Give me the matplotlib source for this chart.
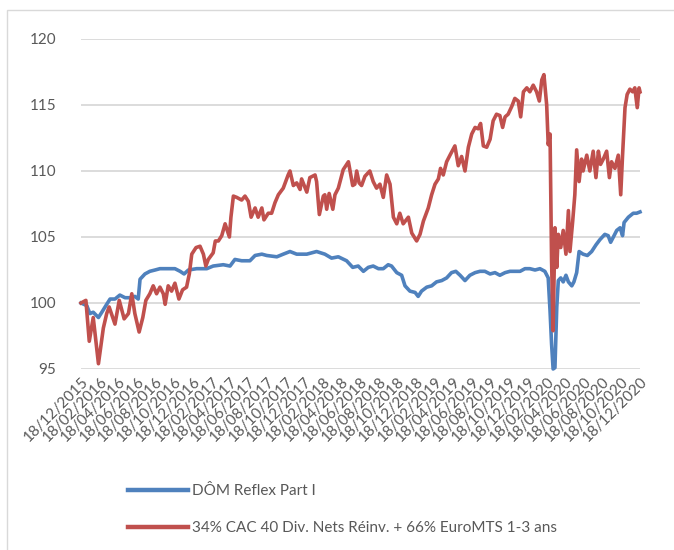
import matplotlib
matplotlib.use("Agg")
import matplotlib.pyplot as plt
from matplotlib.patches import Rectangle
import pandas as pd

# series (base 100 on 18/12/2015)
DOM_DATES = [
    "2015-12-18", "2016-01-06", "2016-01-16", "2016-01-27", "2016-02-13", "2016-02-24",
    "2016-03-11", "2016-03-22", "2016-04-07", "2016-04-23", "2016-05-10", "2016-05-26",
    "2016-06-11", "2016-06-22", "2016-06-28", "2016-07-14", "2016-07-30", "2016-08-16",
    "2016-09-01", "2016-09-23", "2016-10-20", "2016-11-06", "2016-11-19", "2016-12-03",
    "2016-12-30", "2017-02-01", "2017-02-22", "2017-03-27", "2017-04-18", "2017-05-04",
    "2017-05-26", "2017-06-22", "2017-07-09", "2017-07-31", "2017-08-16", "2017-09-18",
    "2017-10-09", "2017-10-31", "2017-11-22", "2017-12-25", "2018-01-26", "2018-02-22",
    "2018-03-16", "2018-04-07", "2018-05-04", "2018-05-24", "2018-06-11", "2018-06-28",
    "2018-07-14", "2018-07-30", "2018-08-16", "2018-09-01", "2018-09-17", "2018-09-28",
    "2018-10-15", "2018-10-31", "2018-11-11", "2018-11-27", "2018-12-14", "2018-12-24",
    "2019-01-04", "2019-01-21", "2019-02-06", "2019-02-22", "2019-03-11", "2019-03-27",
    "2019-04-12", "2019-04-26", "2019-05-10", "2019-05-26", "2019-06-11", "2019-06-28",
    "2019-07-14", "2019-07-30", "2019-08-16", "2019-09-01", "2019-09-17", "2019-10-04",
    "2019-10-20", "2019-11-05", "2019-11-22", "2019-12-08", "2019-12-24", "2020-01-10",
    "2020-01-26", "2020-02-11", "2020-02-22", "2020-02-28", "2020-03-04", "2020-03-09",
    "2020-03-15", "2020-03-21", "2020-03-26", "2020-04-03", "2020-04-11", "2020-04-20",
    "2020-04-28", "2020-05-09", "2020-05-16", "2020-05-25", "2020-06-02", "2020-06-15",
    "2020-06-29", "2020-07-13", "2020-07-27", "2020-08-09", "2020-08-25", "2020-09-05",
    "2020-09-13", "2020-09-22", "2020-10-03", "2020-10-14", "2020-10-22", "2020-10-27",
    "2020-11-10", "2020-11-26", "2020-12-07", "2020-12-18",
]
DOM_VALUES = [
    100.0, 99.8, 99.2, 99.3, 98.9, 99.3,
    99.9, 100.3, 100.3, 100.6, 100.4, 100.4,
    100.5, 100.3, 101.8, 102.2, 102.4, 102.5,
    102.6, 102.6, 102.6, 102.4, 102.2, 102.5,
    102.6, 102.6, 102.8, 102.9, 102.8, 103.3,
    103.2, 103.2, 103.6, 103.7, 103.6, 103.5,
    103.7, 103.9, 103.7, 103.7, 103.9, 103.7,
    103.4, 103.5, 103.2, 102.7, 102.8, 102.4,
    102.7, 102.8, 102.6, 102.6, 102.9, 102.8,
    102.3, 102.1, 101.3, 100.9, 100.8, 100.5,
    100.9, 101.2, 101.3, 101.6, 101.7, 101.9,
    102.3, 102.4, 102.1, 101.7, 102.1, 102.3,
    102.4, 102.4, 102.2, 102.3, 102.1, 102.3,
    102.4, 102.4, 102.4, 102.6, 102.6, 102.5,
    102.6, 102.4, 101.9, 99.4, 96.9, 95.0,
    95.1, 99.7, 101.7, 101.9, 101.6, 102.1,
    101.6, 101.3, 101.6, 102.3, 103.9, 103.7,
    103.6, 103.9, 104.4, 104.8, 105.2, 105.1,
    104.6, 105.0, 105.5, 105.7, 105.1, 106.1,
    106.5, 106.8, 106.8, 106.9,
]

BENCH_DATES = [
    "2015-12-18", "2016-01-03", "2016-01-14", "2016-01-27", "2016-02-13", "2016-02-29",
    "2016-03-11", "2016-03-19", "2016-04-07", "2016-04-21", "2016-05-07", "2016-05-21",
    "2016-06-01", "2016-06-11", "2016-06-25", "2016-07-07", "2016-07-17", "2016-07-30",
    "2016-08-10", "2016-08-21", "2016-09-01", "2016-09-12", "2016-09-18", "2016-09-28",
    "2016-10-09", "2016-10-20", "2016-11-02", "2016-11-14", "2016-11-27", "2016-12-06",
    "2016-12-14", "2016-12-28", "2017-01-10", "2017-01-21", "2017-01-29", "2017-02-06",
    "2017-02-22", "2017-03-01", "2017-03-11", "2017-03-22", "2017-04-02", "2017-04-16",
    "2017-04-21", "2017-04-29", "2017-05-10", "2017-05-26", "2017-06-06", "2017-06-17",
    "2017-06-26", "2017-07-09", "2017-07-19", "2017-07-31", "2017-08-07", "2017-08-21",
    "2017-09-01", "2017-09-12", "2017-09-23", "2017-10-09", "2017-10-25", "2017-10-31",
    "2017-11-11", "2017-11-22", "2017-12-03", "2017-12-08", "2017-12-25", "2018-01-04",
    "2018-01-21", "2018-01-26", "2018-02-04", "2018-02-17", "2018-02-22", "2018-02-28",
    "2018-03-08", "2018-03-20", "2018-03-27", "2018-04-07", "2018-04-23", "2018-05-10",
    "2018-05-24", "2018-05-31", "2018-06-06", "2018-06-14", "2018-06-22", "2018-07-03",
    "2018-07-19", "2018-07-30", "2018-08-10", "2018-08-21", "2018-09-01", "2018-09-12",
    "2018-09-23", "2018-10-04", "2018-10-15", "2018-10-25", "2018-11-05", "2018-11-22",
    "2018-12-03", "2018-12-19", "2018-12-30", "2019-01-10", "2019-01-26", "2019-02-06",
    "2019-02-17", "2019-02-28", "2019-03-07", "2019-03-16", "2019-03-27", "2019-04-07",
    "2019-04-23", "2019-05-04", "2019-05-15", "2019-05-26", "2019-06-06", "2019-06-17",
    "2019-06-28", "2019-07-08", "2019-07-16", "2019-07-25", "2019-08-05", "2019-08-16",
    "2019-08-26", "2019-09-06", "2019-09-17", "2019-09-26", "2019-10-04", "2019-10-14",
    "2019-10-26", "2019-11-05", "2019-11-16", "2019-11-24", "2019-12-03", "2019-12-14",
    "2019-12-24", "2020-01-04", "2020-01-15", "2020-01-24", "2020-02-01", "2020-02-08",
    "2020-02-17", "2020-02-22", "2020-02-28", "2020-03-04", "2020-03-09", "2020-03-15",
    "2020-03-21", "2020-03-26", "2020-04-03", "2020-04-11", "2020-04-20", "2020-04-28",
    "2020-05-03", "2020-05-12", "2020-05-19", "2020-05-25", "2020-06-02", "2020-06-10",
    "2020-06-15", "2020-06-27", "2020-07-07", "2020-07-18", "2020-07-27", "2020-08-04",
    "2020-08-11", "2020-08-20", "2020-08-31", "2020-09-09", "2020-09-16", "2020-09-27",
    "2020-10-08", "2020-10-16", "2020-10-22", "2020-10-30", "2020-11-06", "2020-11-15",
    "2020-11-24", "2020-12-01", "2020-12-09", "2020-12-15", "2020-12-18",
]
BENCH_VALUES = [
    100.0, 100.2, 97.1, 98.9, 95.4, 98.1,
    99.2, 99.7, 98.4, 100.2, 98.8, 99.2,
    100.7, 99.2, 97.8, 98.9, 100.2, 100.7,
    101.3, 100.7, 101.2, 100.7, 99.9, 101.3,
    100.9, 101.5, 100.3, 101.0, 101.2, 102.2,
    103.7, 104.2, 104.3, 103.7, 102.8, 103.3,
    103.8, 104.7, 104.7, 105.1, 106.0, 105.0,
    106.5, 108.1, 108.0, 107.8, 108.1, 107.7,
    106.5, 107.2, 106.5, 107.2, 106.3, 106.8,
    106.8, 107.6, 108.2, 108.7, 109.7, 110.0,
    108.9, 109.1, 108.6, 109.4, 108.4, 109.5,
    109.7, 109.2, 106.7, 108.1, 108.2, 107.1,
    108.3, 107.1, 108.2, 108.7, 110.1, 110.7,
    108.9, 109.0, 110.0, 109.1, 108.9, 109.6,
    110.0, 109.2, 108.7, 109.0, 108.0, 109.7,
    109.0, 106.5, 106.0, 106.8, 106.0, 106.5,
    105.3, 104.7, 105.2, 106.2, 107.2, 108.2,
    109.0, 109.4, 110.2, 109.7, 110.7, 111.2,
    111.9, 110.4, 111.1, 110.0, 111.8, 112.8,
    113.3, 113.2, 113.6, 111.9, 111.8, 112.4,
    113.8, 114.3, 114.2, 113.3, 114.1, 114.3,
    114.9, 115.5, 115.3, 114.1, 116.0, 116.3,
    116.0, 116.5, 116.0, 115.3, 116.9, 117.3,
    115.0, 112.0, 112.8, 103.2, 97.9, 105.7,
    102.7, 105.2, 104.2, 105.5, 103.7, 107.0,
    103.9, 106.2, 108.2, 111.6, 109.2, 110.9,
    110.0, 111.2, 110.0, 111.5, 109.5, 111.5,
    110.5, 110.9, 111.5, 109.5, 110.7, 110.2,
    111.2, 108.2, 111.2, 114.8, 115.8, 116.2,
    116.0, 116.3, 114.8, 116.3, 116.0,
]

DOM_LABEL = "DÔM Reflex Part I"
BENCH_LABEL = "34% CAC 40 Div. Nets Réinv. + 66% EuroMTS 1-3 ans"

Y_TICKS = [95, 100, 105, 110, 115, 120]
TICK_START = "2015-12-18"
TICK_COUNT = 31  # one label every 2 months

BLUE = "#4F81BD"
RED = "#C0504D"
TEXT = "#595959"
GRID = "#D9D9D9"

plt.rcParams["font.family"] = ["Lato", "DejaVu Sans"]

dom = pd.Series(DOM_VALUES, index=pd.to_datetime(DOM_DATES))
bench = pd.Series(BENCH_VALUES, index=pd.to_datetime(BENCH_DATES))
tick_dates = [pd.Timestamp(TICK_START) + pd.DateOffset(months=2 * i) for i in range(TICK_COUNT)]

fig = plt.figure(figsize=(6.74, 5.5), dpi=100)

# light chart frame (continues past the right and bottom edges)
fig.patches.append(Rectangle((7 / 674, -0.1), 1.2, 1 - 10 / 550 + 0.1,
                             transform=fig.transFigure, fill=False,
                             edgecolor=GRID, linewidth=1.0))

ax = fig.add_axes([81 / 674, 1 - 369 / 550, 559 / 674, 330 / 550])

ax.plot(dom.index, dom.values, color=BLUE, linewidth=2.6, label=DOM_LABEL,
        clip_on=False, zorder=3, solid_joinstyle="round")
ax.plot(bench.index, bench.values, color=RED, linewidth=2.6, label=BENCH_LABEL,
        clip_on=False, zorder=3, solid_joinstyle="round")

ax.set_ylim(95, 120)
ax.set_yticks(Y_TICKS)
ax.set_xlim(tick_dates[0], tick_dates[-1])
ax.set_xticks(tick_dates)
ax.set_xticklabels([d.strftime("%d/%m/%Y") for d in tick_dates],
                   rotation=45, ha="right", va="top", rotation_mode="anchor")

ax.grid(axis="y", color=GRID, linewidth=1.3)
ax.set_axisbelow(True)
for s in ax.spines.values():
    s.set_visible(False)
ax.tick_params(axis="both", length=0, colors=TEXT, labelsize=11)
ax.tick_params(axis="y", pad=18)
ax.tick_params(axis="x", pad=4)

leg = fig.legend(loc="upper left", bbox_to_anchor=(122 / 674, 1 - 478 / 550),
                 frameon=False, fontsize=11, handlelength=3.9, handletextpad=0.25,
                 labelspacing=1.5, borderaxespad=0)
for line in leg.get_lines():
    line.set_linewidth(3.2)
for t in leg.get_texts():
    t.set_color(TEXT)

fig.savefig("out.png", dpi=100)
